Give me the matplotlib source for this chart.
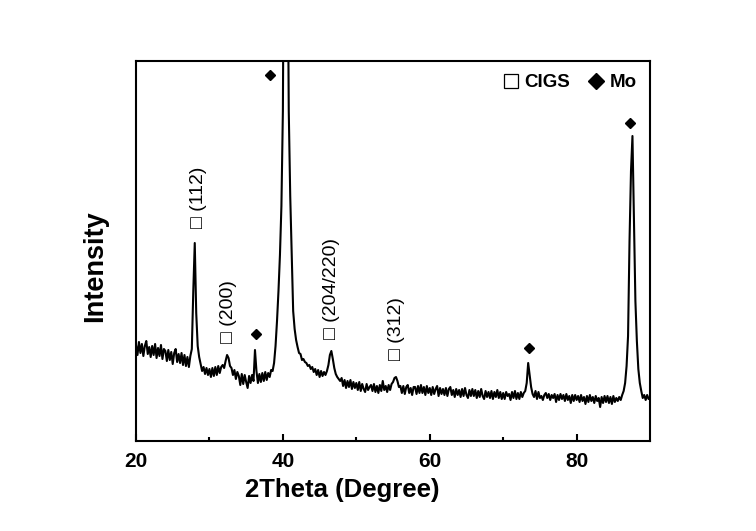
import numpy as np
import matplotlib
matplotlib.use("Agg")
import matplotlib.pyplot as plt
from matplotlib.lines import Line2D

plt.rcParams['font.family'] = ['Liberation Sans', 'DejaVu Sans']

# 2-theta sampling grid (degrees), 0.2 deg step from 20 to 90
two_theta = np.linspace(20, 90, 351)

# intensity (arb. units), one row per 2 degrees
intensity = [
    96, 86, 99, 88, 97, 85, 95, 100, 87, 94,       # 20
    84, 95, 86, 97, 83, 93, 85, 96, 82, 92,        # 22
    90, 80, 91, 81, 89, 77, 88, 92, 79, 87,        # 24
    78, 88, 76, 86, 75, 84, 74, 85, 92, 150,       # 26
    198, 128, 95, 84, 77, 70, 74, 67, 73, 66,      # 28
    72, 64, 73, 65, 74, 66, 75, 68, 74, 76,        # 30
    73, 80, 86, 83, 75, 73, 66, 71, 62, 69,        # 32
    65, 56, 67, 57, 66, 59, 53, 65, 58, 66,        # 34
    60, 91, 70, 58, 67, 59, 68, 60, 69, 61,        # 36
    68, 64, 71, 70, 78, 95, 120, 150, 186, 235,    # 38
    330, 620, 950, 560, 330, 245, 186, 130, 112, 101,  # 40
    94, 88, 87, 81, 82, 79, 78, 75, 76, 72,        # 42
    74, 69, 72, 66, 71, 64, 70, 65, 69, 66,        # 44
    70, 76, 86, 90, 82, 73, 67, 64, 62, 60,        # 46
    63, 55, 61, 53, 60, 54, 61, 52, 59, 53,        # 48
    58, 51, 59, 50, 57, 52, 49, 57, 51, 54,        # 50
    56, 50, 57, 49, 55, 48, 56, 50, 60, 51,        # 52
    55, 49, 56, 51, 57, 59, 63, 64, 60, 54,        # 54
    55, 48, 55, 47, 54, 56, 48, 53, 46, 54,        # 56
    54, 47, 55, 48, 56, 48, 54, 46, 55, 48,        # 58
    53, 46, 54, 47, 52, 55, 45, 53, 47, 52,        # 60
    46, 53, 45, 52, 54, 46, 51, 44, 52, 46,        # 62
    51, 44, 52, 45, 53, 46, 43, 51, 45, 52,        # 64
    45, 51, 43, 50, 44, 52, 45, 42, 50, 44,        # 66
    49, 43, 50, 42, 49, 44, 51, 43, 49, 42,        # 68
    48, 42, 49, 45, 47, 41, 49, 43, 50, 42,        # 70
    48, 42, 49, 44, 48, 50, 58, 78, 66, 54,        # 72
    47, 44, 50, 42, 49, 43, 45, 41, 46, 48,        # 74
    43, 47, 41, 46, 43, 47, 39, 46, 41, 47,        # 76
    42, 46, 40, 47, 41, 45, 38, 46, 40, 46,        # 78
    41, 45, 39, 46, 40, 44, 37, 45, 39, 46,        # 80
    40, 44, 38, 45, 40, 43, 34, 44, 38, 45,        # 82
    39, 45, 38, 44, 37, 45, 39, 43, 40, 44,        # 84
    41, 46, 50, 58, 75, 105, 200, 270, 305, 220,   # 86
    140, 100, 72, 58, 50, 43, 46, 41, 46, 42,      # 88
    44,                                            # 90
]

# CIGS peak labels (open square + Miller indices)
cigs_x = [28.5, 32.6, 46.6, 55.5]
cigs_y = [213, 98, 102, 81]
cigs_labels = ["(112)", "(200)", "(204/220)", "(312)"]

# Mo peak markers (filled diamonds)
mo_x = [36.3, 38.2, 73.45, 87.3]
mo_y = [107, 366, 93, 318]

x_ticks = [20, 40, 60, 80]
x_minor = [30, 50, 70]

fig = plt.figure(figsize=(7.56, 5.31), dpi=100)
ax = fig.add_axes([0.1799, 0.1695, 0.680, 0.7156])

ax.plot(two_theta, intensity, color='black', lw=1.5)
ax.plot(mo_x, mo_y, ls='none', marker='D', color='black', ms=5.5)

for x, y, lab in zip(cigs_x, cigs_y, cigs_labels):
    ax.text(x, y, '\u25a1 ' + lab, rotation=90, ha='center', va='bottom',
            fontsize=14, color='black')

ax.set_xlim(20, 90)
ax.set_ylim(0, 380)
ax.set_yticks([])
ax.set_xticks(x_ticks)
ax.set_xticks(x_minor, minor=True)
ax.tick_params(axis='x', which='major', direction='in', length=5, width=1.5,
               labelsize=15, pad=8)
ax.tick_params(axis='x', which='minor', direction='in', length=3, width=1.5)
for lbl in ax.get_xticklabels():
    lbl.set_fontweight('bold')
for sp in ax.spines.values():
    sp.set_linewidth(1.5)

ax.set_xlabel('2Theta (Degree)', fontsize=18.5, fontweight='bold')
ax.set_ylabel('Intensity', fontsize=19.5, fontweight='bold')
ax.xaxis.set_label_coords(0.402, -0.13)
ax.yaxis.set_label_coords(-0.08, 0.46)
ax.xaxis.label.set_va('center')
ax.yaxis.label.set_va('center')

handles = [
    Line2D([], [], ls='none', marker='s', mfc='white', mec='black', mew=0.9, ms=10.5),
    Line2D([], [], ls='none', marker='D', color='black', ms=8.5),
]
leg = ax.legend(handles, ['CIGS', 'Mo'], loc='upper right', ncol=2, frameon=False,
                prop={'weight': 'bold', 'size': 13.5}, handlelength=0.9,
                handletextpad=0.3, columnspacing=0.9, borderaxespad=0.3,
                borderpad=0.4)

fig.savefig('out.png', dpi=100)
